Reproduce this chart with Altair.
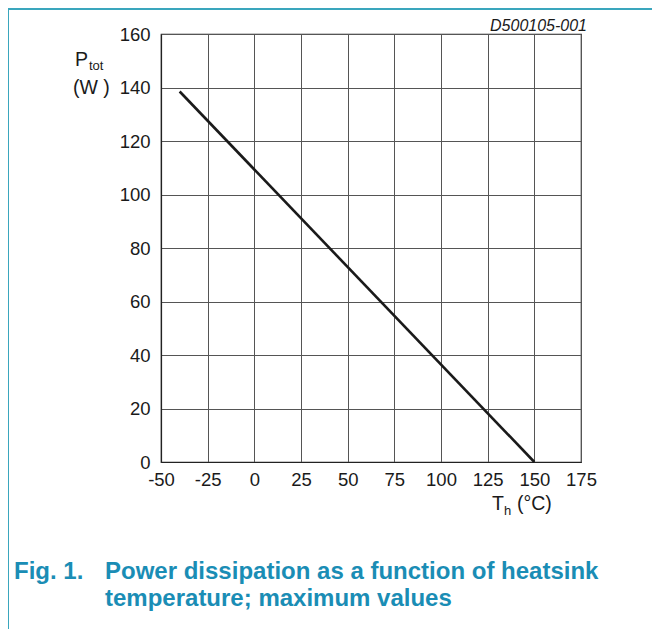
import altair as alt
import pandas as pd

# data
temp_c = [-40, 150]
power_w = [138.5, 0]
x_ticks = [-50, -25, 0, 25, 50, 75, 100, 125, 150, 175]
y_ticks = [0, 20, 40, 60, 80, 100, 120, 140, 160]

FONT = "Liberation Sans"
INK = "#1a1a1a"
TEAL = "#1a8db5"
FRAME = "#3aa6bd"

df = pd.DataFrame({"Th": temp_c, "Ptot": power_w})

W, H = 420, 428

line = alt.Chart(df).mark_line(color=INK, strokeWidth=2.6).encode(
    x=alt.X("Th:Q", scale=alt.Scale(domain=[-50, 175], nice=False, zero=False),
            axis=alt.Axis(values=x_ticks, title=None, tickSize=0, labelPadding=8,
                          labelFlush=False,
                          labelExpr="replace(datum.label, '−', '-')")),
    y=alt.Y("Ptot:Q", scale=alt.Scale(domain=[0, 160], nice=False),
            axis=alt.Axis(values=y_ticks, title=None, tickSize=0, labelPadding=11,
                          labelFlush=False)),
)


def txt(s, x, y, size, weight="normal", style="normal", align="left", color=INK):
    return alt.Chart(pd.DataFrame({"t": [s]})).mark_text(
        font=FONT, fontSize=size, fontWeight=weight, fontStyle=style,
        align=align, baseline="alphabetic", color=color,
    ).encode(x=alt.value(x), y=alt.value(y), text="t:N")


labels = [
    txt("P", -86, 32, 19.5),
    txt("tot", -72, 36, 13),
    txt("(W )", -88, 60, 19.5),
    txt("T", 331, 476, 19.5),
    txt("h", 343, 481, 13),
    txt("(°C)", 356, 476, 19.5),
    txt("D500105-001", 426, -3, 16, style="italic", align="right"),
    txt("Fig. 1.", -147, 545, 24, weight="bold", color=TEAL),
    txt("Power dissipation as a function of heatsink", -56, 545, 24, weight="bold", color=TEAL),
    txt("temperature; maximum values", -56, 572, 24, weight="bold", color=TEAL),
]

frame_v = alt.Chart(pd.DataFrame({"a": [0]})).mark_rule(color=FRAME, strokeWidth=2).encode(
    x=alt.value(-153), y=alt.value(-26), y2=alt.value(620))
frame_h = alt.Chart(pd.DataFrame({"a": [0]})).mark_rule(color=FRAME, strokeWidth=2).encode(
    x=alt.value(-154), x2=alt.value(500), y=alt.value(-25))

chart = alt.layer(line, frame_v, frame_h, *labels).properties(
    width=W, height=H,
    autosize=alt.AutoSizeParams(type="none"),
    padding={"left": 153, "top": 26, "right": 71, "bottom": 167},
).configure_view(stroke="#222", strokeWidth=1.2).configure_axis(
    grid=True, gridColor="#555", gridWidth=1, domainColor="#222", domainWidth=1.2,
    labelFont=FONT, labelFontSize=18.5, labelColor=INK,
)

chart.save("out.html", embed_options={"renderer": "svg", "actions": False})
